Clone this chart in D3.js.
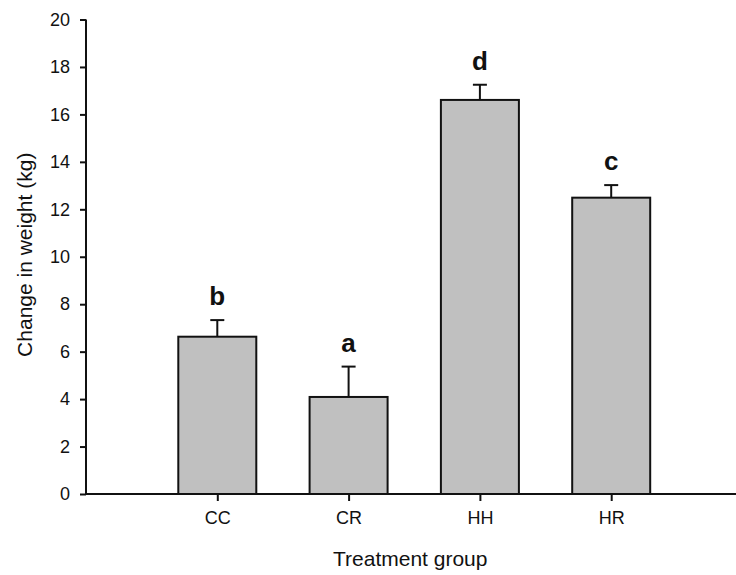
<!DOCTYPE html>
<html>
<head>
<meta charset="utf-8">
<script src="https://cdn.jsdelivr.net/npm/d3@7"></script>
<style>
  html, body { margin: 0; padding: 0; background: #fff; }
  svg { display: block; font-family: "Liberation Sans", Arial, sans-serif; }
</style>
</head>
<body>
<div id="chart"></div>
<script>
const categories = ["CC", "CR", "HH", "HR"];
const means = [6.63, 4.09, 16.61, 12.49];
const errors = [0.70, 1.28, 0.64, 0.53];
const letters = ["b", "a", "d", "c"];
const yTicks = [0, 2, 4, 6, 8, 10, 12, 14, 16, 18, 20];

const W = 736, H = 575;
const svg = d3.select("#chart").append("svg").attr("width", W).attr("height", H);

const x0 = 86, x1 = 742.5, yTop = 19.5, yBot = 494;
const x = d3.scalePoint().domain(categories).range([x0, x1]).padding(1);
const y = d3.scaleLinear().domain([0, 20]).range([yBot, yTop]);
const barW = 78;

// bars
svg.selectAll("rect.bar").data(categories).enter().append("rect")
  .attr("x", d => x(d) - barW / 2)
  .attr("y", (d, i) => y(means[i]))
  .attr("width", barW)
  .attr("height", (d, i) => y(0) - y(means[i]))
  .attr("fill", "#c0c0c0")
  .attr("stroke", "#111")
  .attr("stroke-width", 2);

// error bars (upper only)
const eb = svg.append("g").attr("stroke", "#111").attr("stroke-width", 2);
categories.forEach((c, i) => {
  eb.append("line").attr("x1", x(c)).attr("x2", x(c))
    .attr("y1", y(means[i])).attr("y2", y(means[i] + errors[i]));
  eb.append("line").attr("x1", x(c) - 7).attr("x2", x(c) + 7)
    .attr("y1", y(means[i] + errors[i])).attr("y2", y(means[i] + errors[i]));
});

// letters
svg.selectAll("text.letter").data(categories).enter().append("text")
  .attr("x", d => x(d))
  .attr("y", (d, i) => y(means[i] + errors[i]) - 15)
  .attr("text-anchor", "middle")
  .attr("font-size", 26)
  .attr("font-weight", "bold")
  .attr("fill", "#111")
  .text((d, i) => letters[i]);

// y axis
const yAxis = svg.append("g").attr("transform", `translate(${x0},0)`)
  .call(d3.axisLeft(y).tickValues(yTicks).tickSize(6).tickPadding(10).tickFormat(d3.format("d")));
yAxis.select(".domain").attr("stroke", "#111").attr("stroke-width", 2).attr("d", `M0,${yTop}V${yBot}`);
yAxis.selectAll(".tick line").attr("stroke", "#111").attr("stroke-width", 2);
yAxis.selectAll(".tick text").attr("font-size", 18).attr("fill", "#111")
  .attr("font-family", "Liberation Sans, Arial, sans-serif");

// x axis
const xAxis = svg.append("g").attr("transform", `translate(0,${yBot})`)
  .call(d3.axisBottom(x).tickSize(7).tickPadding(10));
xAxis.select(".domain").attr("stroke", "#111").attr("stroke-width", 2).attr("d", `M${x0 - 1},0H${x1}`);
xAxis.selectAll(".tick line").attr("stroke", "#111").attr("stroke-width", 2);
xAxis.selectAll(".tick text").attr("font-size", 18).attr("fill", "#111")
  .attr("font-family", "Liberation Sans, Arial, sans-serif");

// titles
svg.append("text")
  .attr("x", (x0 + x1) / 2 - 4).attr("y", 566)
  .attr("text-anchor", "middle").attr("font-size", 21).attr("fill", "#111")
  .text("Treatment group");
svg.append("text")
  .attr("transform", `translate(32,${(yTop + yBot) / 2 - 2}) rotate(-90)`)
  .attr("text-anchor", "middle").attr("font-size", 21).attr("fill", "#111")
  .text("Change in weight (kg)");
</script>
</body>
</html>
